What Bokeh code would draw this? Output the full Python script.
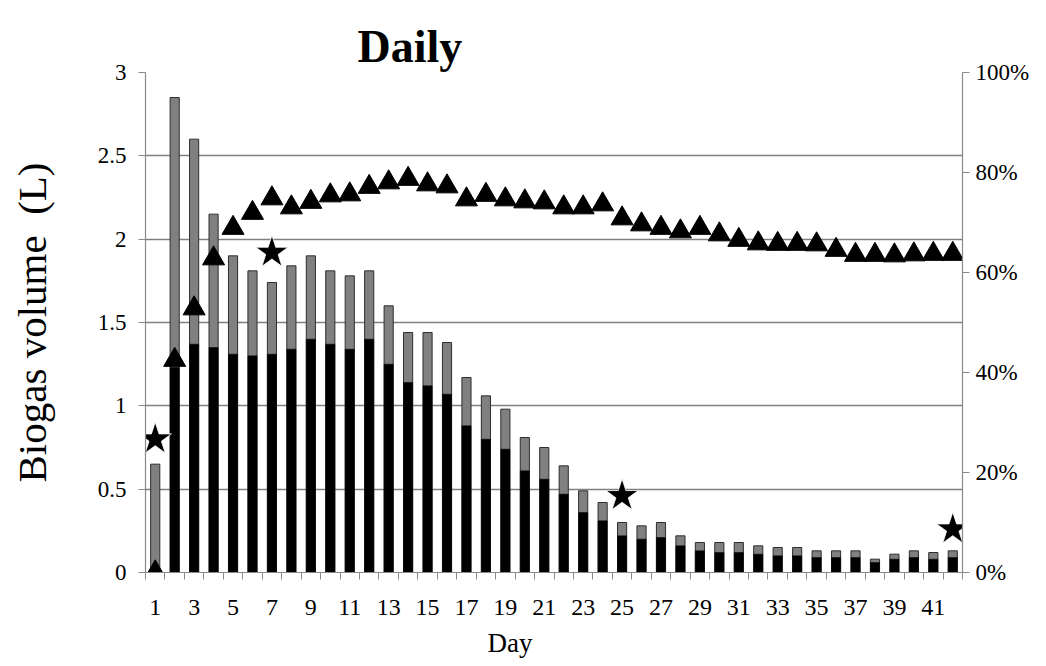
from bokeh.plotting import figure
from bokeh.models import Range1d, LinearAxis, FixedTicker, PrintfTickFormatter, Title, ColumnDataSource
from bokeh.embed import file_html
from bokeh.resources import INLINE

# ---- data ----
days = list(range(1, 43))
total_biogas = [0.65, 2.85, 2.60, 2.15, 1.90, 1.81, 1.74, 1.84, 1.90, 1.81, 1.78, 1.81, 1.60, 1.44,
                1.44, 1.38, 1.17, 1.06, 0.98, 0.81, 0.75, 0.64, 0.49, 0.42, 0.30, 0.28, 0.30, 0.22,
                0.18, 0.18, 0.18, 0.16, 0.15, 0.15, 0.13, 0.13, 0.13, 0.08, 0.11, 0.13, 0.12, 0.13]
methane = [0.00, 1.23, 1.37, 1.35, 1.31, 1.30, 1.31, 1.34, 1.40, 1.37, 1.34, 1.40, 1.25, 1.14,
           1.12, 1.07, 0.88, 0.80, 0.74, 0.61, 0.56, 0.47, 0.36, 0.31, 0.22, 0.20, 0.21, 0.16,
           0.13, 0.12, 0.12, 0.11, 0.10, 0.10, 0.09, 0.09, 0.09, 0.06, 0.08, 0.09, 0.08, 0.09]
methane_pct = [0.0, 42.5, 52.8, 62.8, 68.9, 71.9, 74.8, 73.0, 74.1, 75.4, 75.6, 77.1, 78.0, 78.7,
               77.6, 77.2, 74.6, 75.5, 74.6, 74.2, 74.0, 73.0, 73.0, 73.6, 70.8, 69.6, 68.9, 68.2,
               68.9, 67.6, 66.5, 65.8, 65.7, 65.7, 65.6, 64.5, 63.5, 63.5, 63.4, 63.6, 63.7, 63.7]
star_days = [1, 7, 25, 42]
star_vals = [0.80, 1.92, 0.46, 0.26]
x_tick_days = list(range(1, 42, 2))
y_ticks = [0, 0.5, 1, 1.5, 2, 2.5, 3]
y_grid = [0.5, 1, 1.5, 2, 2.5]
pct_ticks = [0, 20, 40, 60, 80, 100]

FONT = "Liberation Serif"
AXIS_GRAY = "#8a8a8a"

src = ColumnDataSource(dict(day=days, total=total_biogas, ch4=methane, pct=methane_pct))
star_src = ColumnDataSource(dict(day=star_days, val=star_vals))

p = figure(width=1040, height=666, output_backend="svg", toolbar_location=None,
           x_range=Range1d(0.5, 42.5), y_range=Range1d(0, 3),
           min_border_left=145, min_border_right=78, min_border_top=72, min_border_bottom=94)
p.title = None
p.outline_line_color = None
p.background_fill_color = "white"
p.border_fill_color = "white"

p.extra_y_ranges = {"pct": Range1d(0, 100)}

# grid
p.xgrid.visible = False
p.ygrid.ticker = FixedTicker(ticks=y_grid)
p.ygrid.grid_line_color = "#808080"
p.ygrid.grid_line_width = 1.5

# bars
p.vbar(x="day", top="total", bottom=0, width=0.47, source=src,
       fill_color="#808080", line_color="#2e2e2e", line_width=1)
p.vbar(x="day", top="ch4", bottom=0, width=0.47, source=src,
       fill_color="black", line_color="black", line_width=0.5)

# triangles (methane %)
p.scatter(x="day", y="pct", source=src, y_range_name="pct", marker="triangle",
          size=22, fill_color="black", line_color="black")
# stars
p.scatter(x="day", y="val", source=star_src, marker="star", size=34,
          fill_color="black", line_color="white", line_width=0.8)

# x axis
xa = p.xaxis[0]
xa.ticker = FixedTicker(ticks=x_tick_days, minor_ticks=[d - 0.5 for d in days] + [days[-1] + 0.5])
xa.major_tick_out = 0
xa.major_tick_in = 0
xa.minor_tick_out = 7
xa.minor_tick_in = 0
xa.minor_tick_line_color = AXIS_GRAY
xa.axis_line_color = AXIS_GRAY
xa.axis_line_width = 1.2
xa.major_label_text_font = FONT
xa.major_label_text_font_size = "24px"
xa.major_label_text_color = "black"
xa.major_label_standoff = 20

# left axis
ya = p.yaxis[0]
ya.ticker = FixedTicker(ticks=y_ticks)
ya.minor_tick_line_color = None
ya.major_tick_out = 7
ya.major_tick_in = 0
ya.major_tick_line_color = AXIS_GRAY
ya.axis_line_color = AXIS_GRAY
ya.axis_line_width = 1.2
ya.major_label_text_font = FONT
ya.major_label_text_font_size = "23px"
ya.major_label_text_color = "black"
ya.major_label_standoff = 12
ya.axis_label = "Biogas volume\u00a0\u00a0(L)"
ya.axis_label_text_font = FONT
ya.axis_label_text_font_size = "41px"
ya.axis_label_text_font_style = "normal"
ya.axis_label_text_color = "black"
ya.axis_label_standoff = 40

# right axis
ra = LinearAxis(y_range_name="pct", ticker=FixedTicker(ticks=pct_ticks),
                formatter=PrintfTickFormatter(format="%d%%"))
ra.minor_tick_line_color = None
ra.major_tick_out = 7
ra.major_tick_in = 0
ra.major_tick_line_color = AXIS_GRAY
ra.axis_line_color = AXIS_GRAY
ra.axis_line_width = 1.2
ra.major_label_text_font = FONT
ra.major_label_text_font_size = "23px"
ra.major_label_text_color = "black"
ra.major_label_standoff = 6
p.add_layout(ra, "right")

# titles
p.add_layout(Title(text="Daily", align="left", offset=212, text_font=FONT,
                   text_font_size="46px", text_font_style="bold", text_color="black",
                   standoff=2), "above")
p.add_layout(Title(text="Day", align="left", offset=342, text_font=FONT,
                   text_font_size="27px", text_font_style="normal", text_color="black",
                   standoff=16), "below")

open("out.html", "w").write(file_html(p, INLINE))
